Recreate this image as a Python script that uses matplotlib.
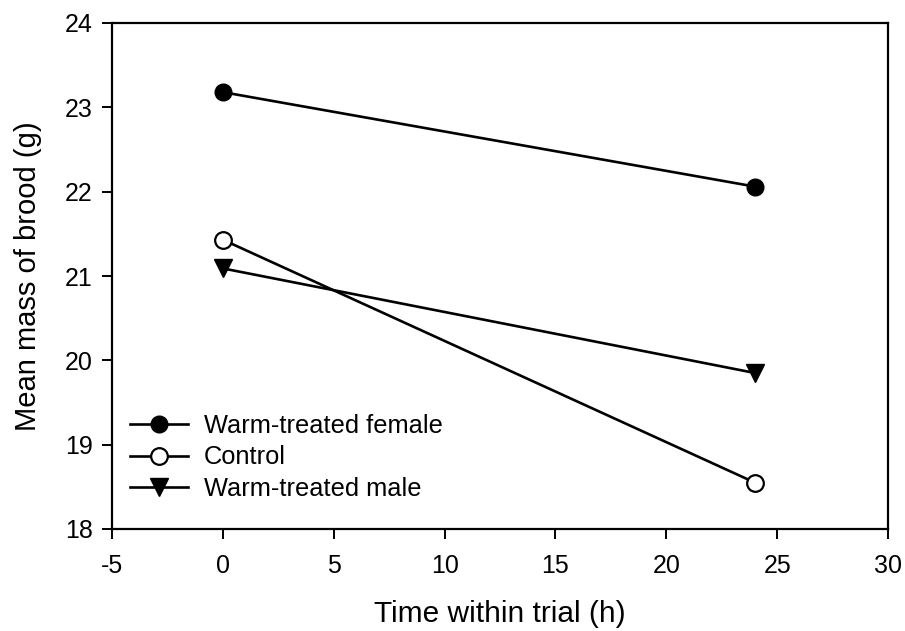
import matplotlib.pyplot as plt

plt.rcParams['font.family'] = ['Liberation Sans', 'DejaVu Sans']
plt.rcParams['axes.unicode_minus'] = False

# Mean brood mass at the start and end of each trial
time_h = [0, 24]
female_mass = [23.18, 22.06]
control_mass = [21.43, 18.55]
male_mass = [21.09, 19.85]

labels = ['Warm-treated female', 'Control', 'Warm-treated male']


def main():
    fig = plt.figure(figsize=(9.05, 6.31), dpi=100)
    ax = fig.add_axes([112 / 905, 1 - 529 / 631, (888 - 112) / 905, (529 - 23) / 631])

    ax.plot(time_h, female_mass, color='black', lw=1.9, marker='o', ms=12,
            mfc='black', mec='black', label=labels[0])
    ax.plot(time_h, control_mass, color='black', lw=1.9, marker='o', ms=12,
            mfc='white', mec='black', mew=1.6, label=labels[1])
    ax.plot(time_h, male_mass, color='black', lw=1.9, marker='v', ms=12.5,
            mfc='black', mec='black', label=labels[2])

    ax.set_xlim(-5, 30)
    ax.set_ylim(18, 24)
    ax.set_xticks(range(-5, 31, 5))
    ax.set_yticks(range(18, 25))
    ax.tick_params(direction='out', length=7, width=1.4, labelsize=18)
    ax.tick_params(axis='x', pad=11)
    ax.tick_params(axis='y', pad=7)
    for s in ax.spines.values():
        s.set_linewidth(1.6)

    ax.set_xlabel('Time within trial (h)', fontsize=21.5, labelpad=16)
    ax.set_ylabel('Mean mass of brood (g)', fontsize=21, labelpad=16)

    ax.legend(loc='lower left', bbox_to_anchor=(0.0, 0.02), frameon=False,
              fontsize=18.3, handlelength=2.3, handletextpad=0.6,
              labelspacing=0.3, borderaxespad=0.3)

    fig.savefig('out.png', dpi=100)


if __name__ == '__main__':
    main()
